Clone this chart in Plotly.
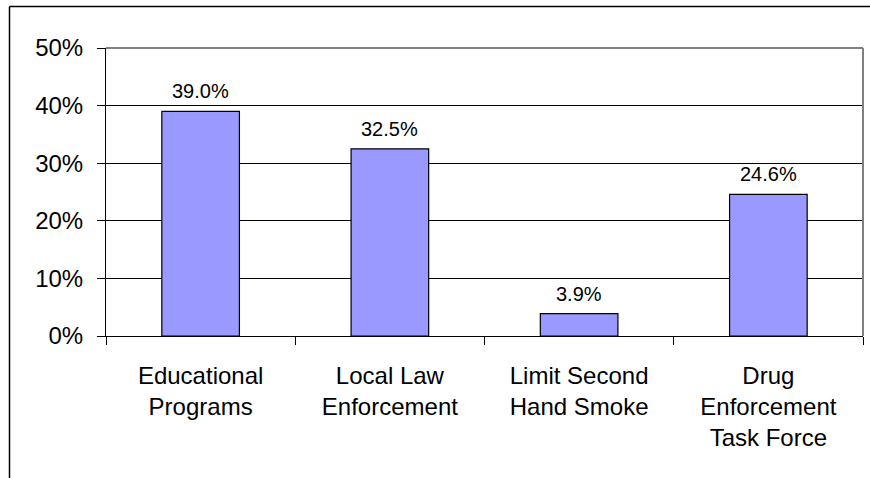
import plotly.graph_objects as go

categories = ["Educational<br>Programs", "Local Law<br>Enforcement", "Limit Second<br>Hand Smoke", "Drug<br>Enforcement<br>Task Force"]
values = [39.0, 32.5, 3.9, 24.6]
labels = ["39.0%", "32.5%", "3.9%", "24.6%"]
y_ticks = [0, 10, 20, 30, 40, 50]
y_tick_text = ["0%", "10%", "20%", "30%", "40%", "50%"]

FONT = "Liberation Sans, Arial, sans-serif"
W, H = 870, 478
L, R, T, B = 106, 7, 48, 142
pw, ph = W - L - R, H - T - B

fig = go.Figure()
fig.add_trace(go.Bar(
    x=categories, y=values,
    marker=dict(color="#9999FF", line=dict(color="#000000", width=1.2)),
    hoverinfo="skip",
))

for c, v, t in zip(categories, values, labels):
    fig.add_annotation(x=c, y=v, text=t, showarrow=False, yanchor="bottom",
                       yshift=7, font=dict(family=FONT, size=20, color="#000"))

shapes = [
    # plot area top & right (gray)
    dict(type="line", xref="paper", yref="paper", x0=0, x1=1, y0=1, y1=1,
         line=dict(color="#808080", width=2)),
    dict(type="line", xref="paper", yref="paper", x0=1, x1=1, y0=0, y1=1,
         line=dict(color="#808080", width=2)),
    # outer chart border
    dict(type="line", xref="paper", yref="paper",
         x0=(9.5 - L) / pw, x1=(W + 10 - L) / pw,
         y0=1 + (T - 6.5) / ph, y1=1 + (T - 6.5) / ph,
         line=dict(color="#000000", width=1.5)),
    dict(type="line", xref="paper", yref="paper",
         x0=(9.5 - L) / pw, x1=(9.5 - L) / pw,
         y0=1 + (T - 6.5) / ph, y1=-(B + 10) / ph,
         line=dict(color="#000000", width=1.5)),
]

fig.update_layout(
    width=W, height=H,
    margin=dict(l=L, r=R, t=T, b=B, pad=0),
    paper_bgcolor="#FFFFFF", plot_bgcolor="#FFFFFF",
    bargap=0.59,
    showlegend=False,
    font=dict(family=FONT, size=24, color="#000"),
    shapes=shapes,
    xaxis=dict(
        type="category", range=[-0.5, 3.5],
        showline=True, linecolor="#000", linewidth=1,
        ticks="outside", tickson="boundaries", ticklen=8, tickcolor="#000", tickwidth=1,
        showgrid=False, tickfont=dict(family=FONT, size=24, color="#000"),
        ticklabelstandoff=18,
    ),
    yaxis=dict(
        range=[0, 50], tickvals=y_ticks, ticktext=y_tick_text,
        showline=True, linecolor="#000", linewidth=1,
        ticks="outside", ticklen=8, tickcolor="#000", tickwidth=1,
        showgrid=True, gridcolor="#000", gridwidth=1,
        zeroline=False,
        tickfont=dict(family=FONT, size=24, color="#000"),
        ticklabelstandoff=9,
    ),
)

fig.write_html("out.html")
